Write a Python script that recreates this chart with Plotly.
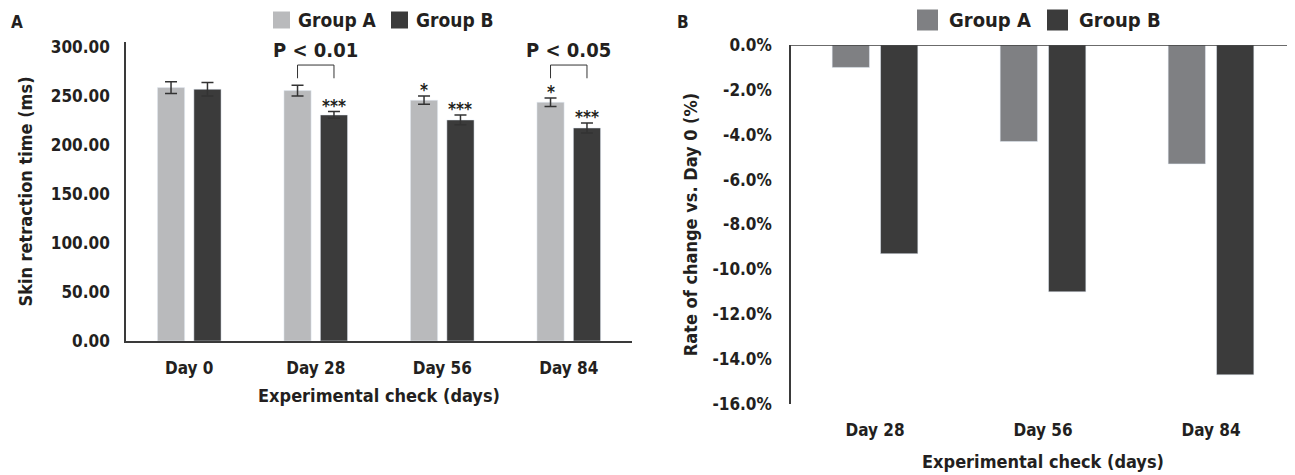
import plotly.graph_objects as go

# ---------------- data ----------------
days_a = ["Day 0", "Day 28", "Day 56", "Day 84"]
group_a_ms = [258.5, 255.4, 245.6, 243.5]
group_a_err = [6.0, 5.5, 4.2, 4.3]
group_b_ms = [256.8, 230.6, 225.5, 217.3]
group_b_err = [7.0, 3.5, 5.0, 5.0]
stars_a = ["", "", "*", "*"]
stars_b = ["", "***", "***", "***"]
p_labels = {1: "P < 0.01", 3: "P < 0.05"}
ticks_a = [0, 50, 100, 150, 200, 250, 300]

days_b = ["Day 28", "Day 56", "Day 84"]
group_a_pct = [-1.0, -4.3, -5.3]
group_b_pct = [-9.3, -11.0, -14.7]
ticks_b = [0, -2, -4, -6, -8, -10, -12, -14, -16]

# ---------------- style ----------------
FONT = "Liberation Sans Narrow, DejaVu Sans Condensed, Open Sans, sans-serif"
TXT = "#231f20"
LIGHT = "#b9babc"
MID = "#7f8083"
DARK = "#3b3b3b"
AXC = "#3a3a3a"

# the page body has an 8 px margin: size the figure so it fills the window exactly
OFF = 8
W, H = 1295 - OFF, 475 - OFF
def px_x(p): return (p - OFF) / W
def px_y(p): return 1 - (p - OFF) / H

ax_dom_x = [px_x(126), px_x(632)]
ax_dom_y = [px_y(341), px_y(42)]
bx_dom_x = [px_x(791), 1.0]
bx_dom_y = [px_y(404), px_y(45)]

wa, ca = 0.215, 0.144   # panel A bar width / centre offset (category units)
wb, cb = 0.222, 0.144   # panel B

fig = go.Figure()

err_style = dict(type="data", visible=True, color="#333333", thickness=1.5, width=6)

fig.add_trace(go.Bar(x=days_a, y=group_a_ms, name="Group A", marker_color=LIGHT,
                     width=wa, offset=-ca - wa / 2,
                     error_y=dict(array=group_a_err, **err_style),
                     xaxis="x", yaxis="y", showlegend=False))
fig.add_trace(go.Bar(x=days_a, y=group_b_ms, name="Group B", marker_color=DARK,
                     width=wa, offset=ca - wa / 2,
                     error_y=dict(array=group_b_err, **err_style),
                     xaxis="x", yaxis="y", showlegend=False))

fig.add_trace(go.Bar(x=days_b, y=group_a_pct, name="Group A", marker_color=MID,
                     width=wb, offset=-cb - wb / 2,
                     xaxis="x2", yaxis="y2", showlegend=False))
fig.add_trace(go.Bar(x=days_b, y=group_b_pct, name="Group B", marker_color=DARK,
                     width=wb, offset=cb - wb / 2,
                     xaxis="x2", yaxis="y2", showlegend=False))

annotations = []
shapes = []

star_font = dict(family=FONT, size=17, color=TXT)
# significance stars
for i in range(len(days_a)):
    if stars_a[i]:
        annotations.append(dict(x=i - ca, y=group_a_ms[i] + group_a_err[i], xref="x", yref="y",
                                text=f"<b>{stars_a[i]}</b>", showarrow=False, yanchor="bottom",
                                xanchor="center", yshift=-6, font=star_font))
    if stars_b[i]:
        annotations.append(dict(x=i + ca, y=group_b_ms[i] + group_b_err[i], xref="x", yref="y",
                                text=f"<b>{stars_b[i]}</b>", showarrow=False, yanchor="bottom",
                                xanchor="center", yshift=-6, font=star_font))

# P-value brackets
for i, lab in p_labels.items():
    top = 281.5
    leg = 268
    shapes.append(dict(type="path", xref="x", yref="y",
                       path=f"M {i - ca},{leg} L {i - ca},{top} L {i + ca},{top} L {i + ca},{leg}",
                       line=dict(color="#333333", width=1)))
    annotations.append(dict(x=i, y=top, xref="x", yref="y", text=f"<b>{lab}</b>", showarrow=False,
                            yanchor="bottom", xanchor="center", yshift=1,
                            font=dict(family=FONT, size=20, color=TXT)))

# zero line on top of panel B
shapes.append(dict(type="line", xref="x2 domain", yref="y2", x0=0, x1=1, y0=0, y1=0,
                   line=dict(color=AXC, width=1.5)))

# panel letters
for letter, lx in (("A", 17), ("B", 683)):
    annotations.append(dict(x=px_x(lx), y=px_y(22), xref="paper", yref="paper",
                            text=f"<b>{letter}</b>", showarrow=False,
                            xanchor="center", yanchor="middle",
                            font=dict(family=FONT, size=17, color=TXT)))

# manual legends
def legend(x_sq, size, colors, text_x, y_c, fsize):
    for xs, col, tx, name in zip(x_sq, colors, text_x, ["Group A", "Group B"]):
        shapes.append(dict(type="rect", xref="paper", yref="paper",
                           x0=px_x(xs), x1=px_x(xs + size),
                           y0=px_y(y_c + size / 2), y1=px_y(y_c - size / 2),
                           fillcolor=col, line=dict(width=0)))
        annotations.append(dict(x=px_x(tx), y=px_y(y_c), xref="paper", yref="paper",
                                text=f"<b>{name}</b>", showarrow=False,
                                xanchor="left", yanchor="middle",
                                font=dict(family=FONT, size=fsize, color=TXT)))

legend([273, 391], 17, [LIGHT, DARK], [296, 414], 20, 19)
legend([917, 1047], 21, [MID, DARK], [947, 1077], 20, 20)

tick_font = dict(family=FONT, size=17, color=TXT)
title_font = dict(family=FONT, size=18, color=TXT)

fig.update_layout(
    width=W, height=H,
    margin=dict(l=0, r=0, t=0, b=0, autoexpand=False),
    paper_bgcolor="white", plot_bgcolor="white",
    barmode="overlay",
    annotations=annotations, shapes=shapes,
    xaxis=dict(domain=ax_dom_x, anchor="y", showline=True, linecolor=AXC, linewidth=1.5,
               ticks="", showgrid=False, tickfont=tick_font, ticklabelstandoff=11,
               tickprefix="<b>", ticksuffix="</b>", automargin=False,
               title=dict(text="<b>Experimental check (days)</b>", font=title_font, standoff=12)),
    yaxis=dict(domain=ax_dom_y, anchor="x", range=[0, 305], showline=True, linecolor=AXC,
               linewidth=1.5, ticks="", showgrid=False, zeroline=False, automargin=False,
               tickvals=ticks_a, ticktext=[f"<b>{v:.2f}</b>" for v in ticks_a],
               tickfont=tick_font, ticklabelstandoff=11,
               title=dict(text="<b>Skin retraction time (ms)</b>", font=title_font, standoff=14)),
    xaxis2=dict(domain=bx_dom_x, anchor="y2", showline=False, ticks="", showgrid=False,
                tickfont=tick_font, ticklabelstandoff=14, automargin=False,
                tickprefix="<b>", ticksuffix="</b>",
                title=dict(text="<b>Experimental check (days)</b>", font=title_font, standoff=16)),
    yaxis2=dict(domain=bx_dom_y, anchor="x2", range=[-16, 0], showline=True, linecolor=AXC,
                linewidth=1.5, ticks="", showgrid=False, zeroline=False, automargin=False,
                tickvals=ticks_b, ticktext=[f"<b>{v:.1f}%</b>" for v in ticks_b],
                tickfont=tick_font, ticklabelstandoff=14,
                title=dict(text="<b>Rate of change vs. Day 0 (%)</b>", font=title_font, standoff=10)),
)

fig.write_html("out.html")
